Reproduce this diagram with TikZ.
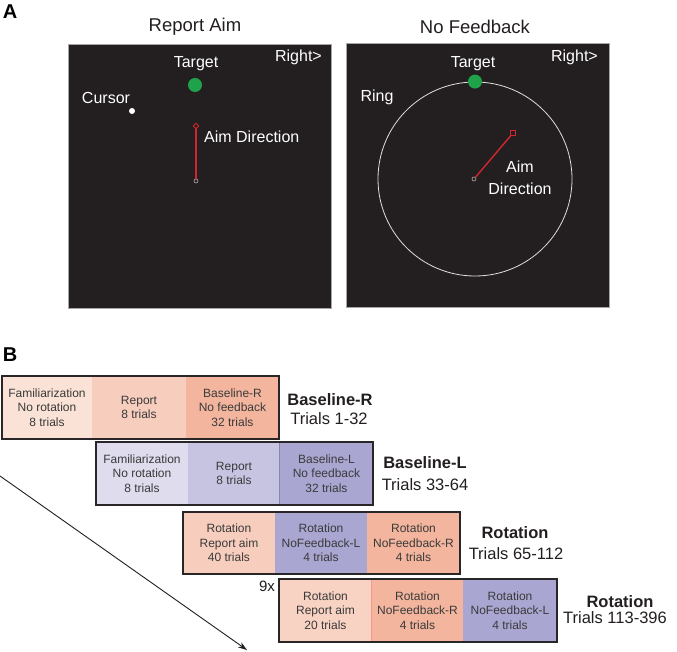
\documentclass[tikz,border=0pt]{standalone}
\usepackage{fontspec}
\setmainfont{Liberation Sans}
\usetikzlibrary{arrows.meta,shapes.geometric}
\definecolor{scr}{HTML}{231F20}
\definecolor{frm}{HTML}{2A2627}
\definecolor{segtxt}{HTML}{3A3A3A}
\definecolor{pk1}{HTML}{FBE2D7}
\definecolor{pk2}{HTML}{F7CDBD}
\definecolor{pk3}{HTML}{F3B59E}
\definecolor{pkr}{HTML}{F8D2C3}
\definecolor{lv1}{HTML}{DEDCED}
\definecolor{lv2}{HTML}{C7C4E1}
\definecolor{lv3}{HTML}{AAA6D2}
\definecolor{tgreen}{HTML}{1FA34A}
\definecolor{aimred}{HTML}{D0262D}
\begin{document}
\begin{tikzpicture}[x=1pt,y=-1pt,
  seg/.style={rectangle, inner sep=0pt, minimum height=63pt, text=segtxt,
    font=\fontsize{12}{14.5}\selectfont, align=center},
  frame/.style={draw=frm, line width=2.2pt},
  screen/.style={fill=scr, draw=gray!70, line width=0.4pt},
  lbl/.style={text=white, font=\fontsize{16}{19}\selectfont, inner sep=0pt, align=center},
  ttl/.style={text=scr, font=\fontsize{18.5}{22}\selectfont, inner sep=0pt},
  panel/.style={text=black, font=\fontsize{20}{24}\selectfont\bfseries, inner sep=0pt},
  blbl/.style={text=scr, font=\fontsize{16.5}{19}\selectfont\bfseries, inner sep=0pt},
  tlbl/.style={text=scr, font=\fontsize{16.5}{19}\selectfont, inner sep=0pt}]
\useasboundingbox (0,0) rectangle (677,652);
\fill[white] (0,0) rectangle (677,652);

% ---------- Panel A ----------
\node[panel] (pA) at (10,12) {A};
\node[ttl] (t1) at (195,27) {Report Aim};
\node[ttl] (t2) at (475,27) {No Feedback};

% left screen
\draw[screen] (68,44) rectangle (331,308);
\node[lbl, anchor=east] (r1) at (322,57) {Right>};
\node[lbl] (tg1) at (196,64) {Target};
\node[circle, fill=tgreen, inner sep=0pt, minimum size=14pt] (gd1) at (195,85) {};
\node[lbl] (cur) at (106,98) {Cursor};
\node[circle, fill=white, inner sep=0pt, minimum size=6pt] (cd) at (132,111) {};
\node[diamond, draw=aimred, line width=0.9pt, inner sep=0pt, minimum size=6pt] (ad1) at (196,126) {};
\node[circle, draw=gray!60, fill=scr, line width=0.6pt, inner sep=0pt, minimum size=4pt] (as1) at (196,181) {};
\draw[aimred, line width=1.4pt] (as1) -- (ad1);
\node[lbl, anchor=west] (aimtxt1) at (204,137) {Aim Direction};

% right screen
\draw[screen] (346,43) rectangle (609,307);
\node[lbl, anchor=east] (r2) at (598,57) {Right>};
\node[lbl] (tg2) at (473,64) {Target};
\node[lbl] (ring) at (377,97) {Ring};
\node[circle, draw=gray!25, line width=0.8pt, inner sep=0pt, minimum size=194pt] (rg) at (475,179) {};
\node[circle, fill=tgreen, inner sep=0pt, minimum size=14pt] (gd2) at (rg.north) {};
\node[rectangle, draw=aimred, line width=0.9pt, inner sep=0pt, minimum size=5pt] (ad2) at (513,133) {};
\node[circle, draw=gray!60, fill=scr, line width=0.6pt, inner sep=0pt, minimum size=4pt] (as2) at (474,179) {};
\draw[aimred, line width=1.4pt] (as2) -- (ad2);
\node[lbl] (aimtxt2) at (520,178) {Aim\\[3pt]Direction};

% ---------- Panel B ----------
\node[panel] (pB) at (10,355) {B};

% arrow
\coordinate (arrS) at (0,476);
\coordinate (arrE) at (247,650);
\draw[line width=0.9pt, scr, -{Stealth[length=9pt,width=6pt]}] (arrS) -- (arrE);

% row 1
\node[seg, fill=pk1, minimum width=90pt] (a1) at (47,407.5) {Familiarization\\No rotation\\8 trials};
\node[seg, fill=pk2, minimum width=94pt] (a2) at (139,407.5) {Report\\8 trials};
\node[seg, fill=pk3, minimum width=93pt] (a3) at (232.5,407.5) {Baseline-R\\No feedback\\32 trials};
\draw[frame] (a1.north west) rectangle (a3.south east);
\node[blbl] (la1) at (330,400) {Baseline-R};
\node[tlbl] (la2) at (329,419) {Trials 1-32};

% row 2
\node[seg, fill=lv1, minimum width=92pt] (b1) at (142,473.5) {Familiarization\\No rotation\\8 trials};
\node[seg, fill=lv2, minimum width=92pt] (b2) at (234,473.5) {Report\\8 trials};
\node[seg, fill=lv3, minimum width=93pt] (b3) at (326.5,473.5) {Baseline-L\\No feedback\\32 trials};
\draw[lv3!80!black, line width=1pt] (b3.north west) -- (b3.south west);
\draw[frame] (b1.north west) rectangle (b3.south east);
\node[blbl] (lb1) at (425,463) {Baseline-L};
\node[tlbl] (lb2) at (425,485) {Trials 33-64};

% row 3
\node[seg, fill=pk2, minimum width=92pt, minimum height=62pt] (c1) at (229,543) {Rotation\\Report aim\\40 trials};
\node[seg, fill=lv3, minimum width=92pt, minimum height=62pt] (c2) at (321,543) {Rotation\\NoFeedback-L\\4 trials};
\node[seg, fill=pk3, minimum width=93pt, minimum height=62pt] (c3) at (413.5,543) {Rotation\\NoFeedback-R\\4 trials};
\draw[frame] (c1.north west) rectangle (c3.south east);
\node[blbl] (lc1) at (515,533) {Rotation};
\node[tlbl] (lc2) at (516,554) {Trials 65-112};

% row 4
\node[text=scr, font=\fontsize{15}{18}\selectfont, inner sep=0pt] (nine) at (267,586) {9x};
\node[seg, fill=pkr, minimum width=93pt] (d1) at (325.5,610.5) {Rotation\\Report aim\\20 trials};
\node[seg, fill=pk3, minimum width=91pt] (d2) at (417.5,610.5) {Rotation\\NoFeedback-R\\4 trials};
\node[seg, fill=lv3, minimum width=94pt] (d3) at (510,610.5) {Rotation\\NoFeedback-L\\4 trials};
\draw[pk3!85!red, line width=0.8pt] (d2.north west) -- (d2.south west);
\draw[frame] (d1.north west) rectangle (d3.south east);
\node[blbl] (ld1) at (620,602) {Rotation};
\node[tlbl] (ld2) at (615,618) {Trials 113-396};
\end{tikzpicture}
\end{document}
